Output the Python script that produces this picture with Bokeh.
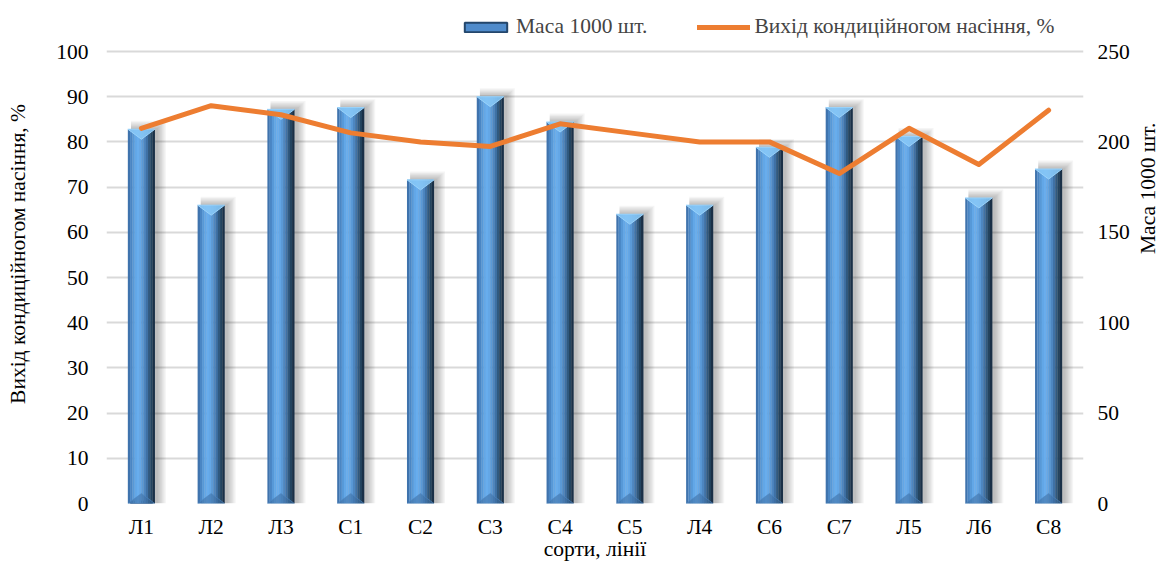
import math
import numpy as np
from bokeh.plotting import figure
from bokeh.models import (Range1d, LinearAxis, FixedTicker, Legend, LegendItem,
                          ColumnDataSource)
from bokeh.embed import file_html
from bokeh.resources import INLINE

# Data: varieties / lines, 1000-seed mass (right axis) and conditioned seed yield, % (left axis)
categories = ["Л1", "Л2", "Л3", "С1", "С2", "С3", "С4", "С5", "Л4", "С6", "С7", "Л5", "Л6", "С8"]
mass_1000 = [207, 165, 218, 219, 179, 225, 211, 160, 165, 197, 219, 203, 169, 185]
seed_yield = [83, 88, 86, 82, 80, 79, 84, 82, 80, 80, 73, 83, 75, 87]
left_ticks = [0, 10, 20, 30, 40, 50, 60, 70, 80, 90, 100]
right_ticks = [0, 50, 100, 150, 200, 250]

FONT = "Liberation Serif"
FS = "21.5px"
W, H = 1174, 564
# pixel layout: plot frame left/right, the 100 % gridline, the zero line, frame top
FRAME_L, FRAME_R, GRID_T, FRAME_B, FRAME_T = 106, 1085, 51, 503, 4

xs = np.arange(len(categories), dtype=float)
mass = np.array(mass_1000, dtype=float)

# headroom above the top gridline holds the legend inside the frame
y_top = 100.0 * (FRAME_B - FRAME_T) / (FRAME_B - GRID_T)
m_top = 250.0 * (FRAME_B - FRAME_T) / (FRAME_B - GRID_T)

p = figure(width=W, height=H, x_range=Range1d(-0.5, len(categories) - 0.5),
           y_range=Range1d(0, y_top), output_backend="svg", toolbar_location=None,
           min_border_left=FRAME_L, min_border_right=W - FRAME_R,
           min_border_top=FRAME_T, min_border_bottom=H - FRAME_B)
p.extra_y_ranges = {"mass": Range1d(0, m_top)}
p.outline_line_color = None
p.background_fill_color = "white"
p.border_fill_color = "white"

# pixel -> data unit helpers for bevel / shadow decoration
px_x = (len(categories)) / (FRAME_R - FRAME_L)
px_m = 250.0 / (FRAME_B - GRID_T)

bar_w = 0.386

# legend swatch renderer for the bars: a tiny bar hidden under the first column
swatch = p.vbar(x="x", top="top", width=0.3,
                source=ColumnDataSource(dict(x=[xs[0]], top=[1.0])),
                y_range_name="mass",
                fill_color="#4f8bcb", line_color="#23466b", line_width=2)

# soft shadow behind each bar
for k in range(1, 8):
    p.quad(left=xs - bar_w / 2 + 3 * px_x, right=xs + bar_w / 2 + (2 + 1.3 * k) * px_x,
           top=mass + (1.2 * k) * px_m, bottom=0, y_range_name="mass",
           fill_color="#000000", fill_alpha=0.04, line_color=None)

# cylindrical shading built from vertical strips
strip_colors = ["#3f73ad", "#4a86c4", "#5799d8", "#62a7e7", "#68aded", "#64a7e6",
                "#5a99d6", "#4d86c0", "#3f71a5", "#30597f", "#24445f", "#1a3047"]
n = len(strip_colors)
sw = bar_w / n
for j, c in enumerate(strip_colors):
    off = -bar_w / 2 + (j + 0.5) * sw
    p.vbar(x=xs + off, width=sw * 1.08, top=mass, bottom=0, y_range_name="mass",
           fill_color=c, line_color=None)

# bevel: light wedge at the top, darker wedge at the bottom
bev = 10 * px_m
top_x, top_y, bot_x, bot_y = [], [], [], []
for x, m in zip(xs, mass):
    top_x.append([x - bar_w / 2, x + bar_w / 2, x])
    top_y.append([m, m, m - bev])
    bot_x.append([x - bar_w / 2, x + bar_w / 2, x])
    bot_y.append([0, 0, bev])
p.patches(top_x, top_y, y_range_name="mass", fill_color="#86c6f6", fill_alpha=0.9,
          line_color="#9ad3fb", line_width=1)
p.patches(bot_x, bot_y, y_range_name="mass", fill_color="#3d6ea3", fill_alpha=0.55,
          line_color="#4f86bf", line_alpha=0.6, line_width=1)

# conditioned seed yield line
line_r = p.line(xs, seed_yield, line_width=5, line_color="#ed7d31",
                line_join="round", line_cap="round")

# axes
p.xaxis.ticker = FixedTicker(ticks=list(xs))
p.xaxis.major_label_overrides = {i: c for i, c in enumerate(categories)}
p.xaxis.axis_label = "сорти, лінії"

p.yaxis.ticker = FixedTicker(ticks=left_ticks)
p.yaxis.axis_label = "Вихід кондиційногом насіння, %"

right_axis = LinearAxis(y_range_name="mass", ticker=FixedTicker(ticks=right_ticks),
                        axis_label="Маса 1000 шт.")
if "axis_label_orientation" in right_axis.properties():
    right_axis.axis_label_orientation = math.pi / 2
p.add_layout(right_axis, "right")

for ax in [p.xaxis[0], p.yaxis[0], right_axis]:
    ax.axis_line_color = None
    ax.major_tick_line_color = None
    ax.minor_tick_line_color = None
    ax.major_tick_out = 0
    ax.major_tick_in = 0
    ax.minor_tick_out = 0
    ax.minor_tick_in = 0
    ax.major_label_text_font = FONT
    ax.major_label_text_font_size = FS
    ax.major_label_text_color = "#000000"
    ax.axis_label_text_font = FONT
    ax.axis_label_text_font_size = FS
    ax.axis_label_text_font_style = "normal"
    ax.axis_label_text_color = "#000000"

p.xaxis.major_label_standoff = 11
p.xaxis.axis_label_standoff = -5
p.yaxis.major_label_standoff = 18
p.yaxis.axis_label_standoff = 23
right_axis.major_label_standoff = 14
right_axis.axis_label_standoff = 15

p.xgrid.grid_line_color = None
p.ygrid.grid_line_color = "#d9d9d9"
p.ygrid.grid_line_width = 2

legend = Legend(items=[LegendItem(label="Маса 1000 шт.", renderers=[swatch]),
                       LegendItem(label="Вихід кондиційногом насіння, %", renderers=[line_r])],
                orientation="horizontal", location=(353, FRAME_B - 39),
                label_text_font=FONT, label_text_font_size=FS,
                glyph_width=53, glyph_height=12, spacing=50, padding=0, margin=0,
                label_standoff=4, border_line_color=None, background_fill_alpha=0)
p.add_layout(legend)

open("out.html", "w").write(file_html(p, INLINE))
